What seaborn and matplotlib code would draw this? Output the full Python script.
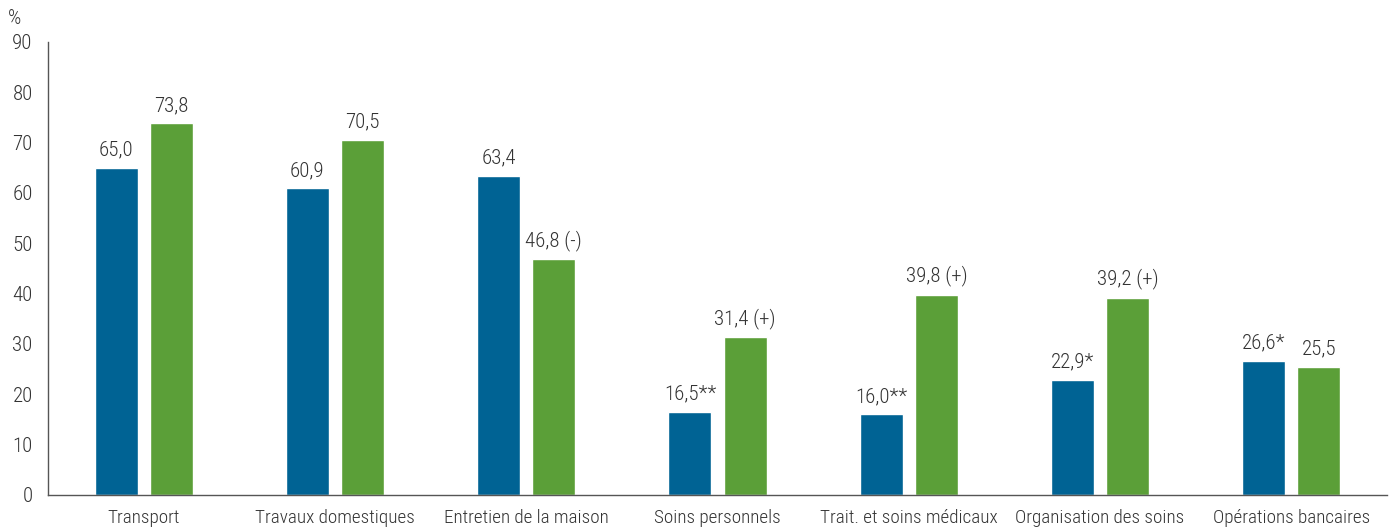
#!/usr/bin/env python3

import pandas as pd
import matplotlib.pyplot as plt
import seaborn as sns

categories = ['Transport', 'Travaux domestiques', 'Entretien de la maison',
              'Soins personnels', 'Trait. et soins médicaux',
              'Organisation des soins', 'Opérations bancaires']
series = ['A', 'B']
values_a = [65.0, 60.9, 63.4, 16.5, 16.0, 22.9, 26.6]
values_b = [73.8, 70.5, 46.8, 31.4, 39.8, 39.2, 25.5]
labels_a = ['65,0', '60,9', '63,4', '16,5**', '16,0**', '22,9*', '26,6*']
labels_b = ['73,8', '70,5', '46,8 (-)', '31,4 (+)', '39,8 (+)', '39,2 (+)', '25,5']
colors = ['#006394', '#5b9f38']
text_color = '#333333'


def main():
    df = pd.DataFrame({
        'Category': categories * 2,
        'Series': [series[0]] * len(categories) + [series[1]] * len(categories),
        'Value': values_a + values_b,
    })

    sns.set_style("white")
    plt.rcParams['font.family'] = ['Roboto Condensed', 'Liberation Sans Narrow',
                                   'DejaVu Sans']
    plt.rcParams['font.weight'] = 'light'
    plt.rcParams['text.color'] = text_color

    fig = plt.figure(figsize=(13.95, 5.31), dpi=100)
    ax = fig.add_axes([0.0344, 0.0678, 0.9599, 0.8532])

    sns.barplot(data=df, x='Category', y='Value', hue='Series',
                order=categories, hue_order=series, palette=colors,
                width=0.576, gap=0.22, saturation=1, legend=False, ax=ax)

    for cont, labs in zip(ax.containers, [labels_a, labels_b]):
        ax.bar_label(cont, labels=labs, padding=6, fontsize=15,
                     color=text_color)

    ax.set_xlim(-0.5, len(categories) - 0.5)
    ax.set_ylim(0, 90)
    ax.set_yticks(range(0, 91, 10))
    ax.set_xticks([i - 0.5 for i in range(len(categories) + 1)])
    ax.set_xticklabels([])
    ax.set_xticks(range(len(categories)), minor=True)
    ax.set_xticklabels(categories, minor=True, fontsize=13.8, color=text_color)
    ax.tick_params(axis='x', which='major', direction='out', length=7,
                   width=1, color='#555555')
    ax.tick_params(axis='x', which='minor', length=0, pad=10)
    ax.tick_params(axis='y', direction='out', length=7, width=1,
                   color='#555555', labelsize=15, labelcolor=text_color, pad=4)
    ax.set_xlabel('')
    ax.set_ylabel('')

    sns.despine(ax=ax)
    for side in ['left', 'bottom']:
        ax.spines[side].set_color('#555555')
        ax.spines[side].set_linewidth(1)

    fig.text(0.006, 0.955, '%', fontsize=15, color=text_color)

    fig.savefig('out.png', dpi=100)


if __name__ == "__main__":
    main()
